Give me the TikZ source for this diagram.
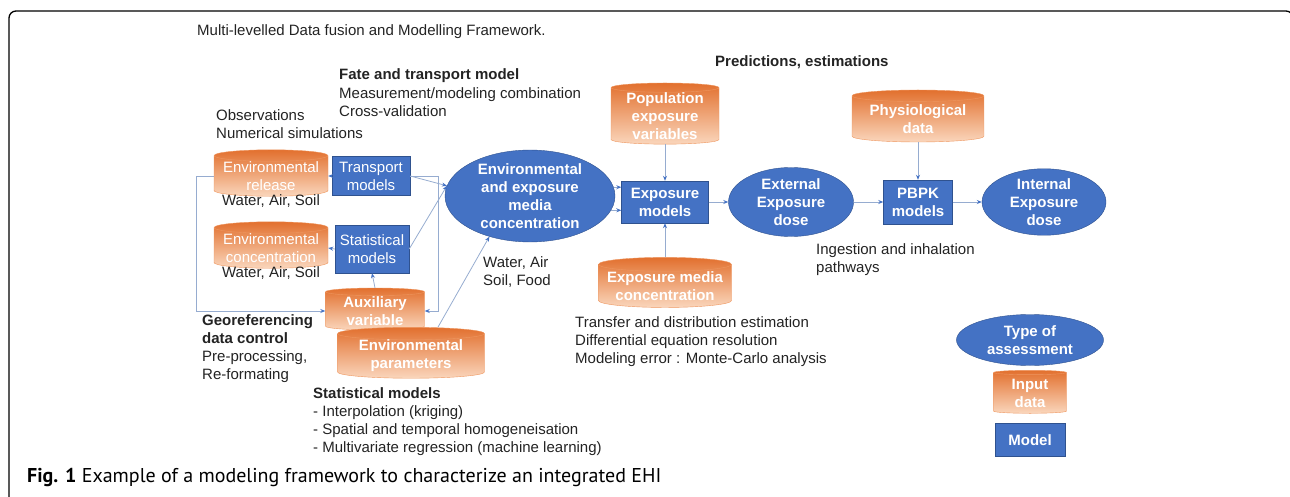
\documentclass[tikz,border=0pt]{standalone}
\usepackage{fontspec}
\setmainfont{Liberation Sans}
\newfontfamily\capfont{PT Sans}
\usetikzlibrary{arrows.meta,shapes.geometric}

\definecolor{boxblue}{RGB}{68,114,196}
\definecolor{edgeblue}{RGB}{47,82,143}
\definecolor{linkcol}{RGB}{150,172,208}
\definecolor{cyltop}{RGB}{226,112,46}
\definecolor{cylbot}{RGB}{250,214,188}
\definecolor{cylrim}{RGB}{238,150,95}
\definecolor{txt}{RGB}{35,35,35}
\newcommand{\dfont}{\fontsize{15}{18}\selectfont}

\begin{document}
\begin{tikzpicture}[x=1pt, y=-1pt,
    font=\dfont,
    model/.style={rectangle, draw=edgeblue, fill=boxblue, text=white, align=center, inner sep=0pt},
    result/.style={ellipse, draw=edgeblue, fill=boxblue, text=white, font=\dfont\bfseries, align=center, inner sep=0pt},
    store/.style={cylinder, shape border rotate=90, aspect=0.12, draw=cylrim, top color=cyltop, bottom color=cylbot, text=white, align=center, inner sep=0pt},
    note/.style={anchor=west, align=left, inner sep=0pt, text=txt},
    link/.style={draw=linkcol, line width=0.8pt, -{Stealth[length=5pt,width=4pt,color=boxblue]}}
]
\useasboundingbox (0,0) rectangle (1290,497);
\draw[line width=1.3pt, rounded corners=7pt] (9,497) -- (9,11) -- (1293,11) -- (1293,497);

% headings and notes
\node[note] (title) at (197,32) {Multi-levelled Data fusion and Modelling Framework.};
\node[note, font=\dfont\bfseries] (fate) at (339,76) {Fate and transport model};
\node[note] (fatetxt) at (339,102) {Measurement/modeling combination\\Cross-validation};
\node[note] (obs) at (216,124) {Observations\\Numerical simulations};
\node[note, font=\dfont\bfseries] (pred) at (715,62) {Predictions, estimations};

% left block
\node[store, minimum width=114, minimum height=45] (release) at (271,176) {Environmental\\release};
\node[text=txt, inner sep=0pt] (relmed) at (271,201) {Water, Air, Soil};
\node[model, minimum width=78, minimum height=39] (transport) at (371,176) {Transport\\models};
\node[store, minimum width=114, minimum height=45] (concen) at (271,248) {Environmental\\concentration};
\node[text=txt, inner sep=0pt] (conmed) at (271,273) {Water, Air, Soil};
\node[model, minimum width=74, minimum height=48] (stat) at (372,249) {Statistical\\models};
\node[store, font=\dfont\bfseries, minimum width=99, minimum height=42] (aux) at (375,311) {Auxiliary\\variable};
\node[store, font=\dfont\bfseries, minimum width=147, minimum height=47] (params) at (411,356) {Environmental\\parameters};

\node[note] (geo) at (202,349) {\textbf{Georeferencing}\\\textbf{data control}\\Pre-processing,\\Re-formating};
\node[note] (statnote) at (313,422) {\textbf{Statistical models}\\- Interpolation (kriging)\\- Spatial and temporal homogeneisation\\- Multivariate regression (machine learning)};
\node[note] (media) at (483,272) {Water, Air\\Soil, Food};

% centre
\node[result, minimum width=170, minimum height=83] (conc) at (530,196) {Environmental\\and exposure\\media\\concentration};
\node[store, font=\dfont\bfseries, minimum width=108, minimum height=58] (pop) at (665,116) {Population\\exposure\\variables};
\node[model, font=\dfont\bfseries, minimum width=87, minimum height=42] (expo) at (665,202) {Exposure\\models};
\node[store, font=\dfont\bfseries, minimum width=133, minimum height=38] (expmed) at (665,286) {Exposure media\\concentration};
\node[note] (transfer) at (575,342) {Transfer and distribution estimation\\Differential equation resolution\\Modeling error : Monte-Carlo analysis};

% right block
\node[result, minimum width=125, minimum height=69] (extdose) at (791,202) {External\\Exposure\\dose};
\node[model, font=\dfont\bfseries, minimum width=69, minimum height=44] (pbpk) at (918,202) {PBPK\\models};
\node[store, font=\dfont\bfseries, minimum width=132, minimum height=52] (phys) at (918,119) {Physiological\\data};
\node[result, minimum width=124, minimum height=65] (intdose) at (1044,202) {Internal\\Exposure\\dose};
\node[note] (ingest) at (816,260) {Ingestion and inhalation\\pathways};

% legend
\node[result, minimum width=147, minimum height=51] (kind) at (1030,340) {Type of\\assessment};
\node[store, font=\dfont\bfseries, minimum width=73, minimum height=43] (input) at (1030,393) {Input\\data};
\node[model, font=\dfont\bfseries, minimum width=70, minimum height=33] (modelkey) at (1030,440) {Model};

% caption
\node[anchor=west, inner sep=0pt, font=\capfont\fontsize{20}{24}\selectfont] (caption) at (27,477) {\textbf{Fig. 1} Example of a modeling framework to characterize an integrated EHI};

% connectors
\draw[link] (transport.west) -- (release.east);
\draw[link] (stat.west) -- (concen.east);
\draw[link] (aux.north) -- (stat.south);
\draw[link] (transport.east) -- (conc.173);
\draw[link] (stat.east) -- (conc.173);
\draw[link] (transport.east) -- ++(28,0) |- (aux.east);
\draw[link] (release.west) -- ++(-17,0) |- (aux.west);
\draw[link] ([xshift=27pt]params.north) -- (conc.225);
\draw[link] (conc.6) -- (conc.6 -| expo.west);
\draw[link] (conc.-10) -- (conc.-10 -| expo.west);
\draw[link] (pop.south) -- (expo.north);
\draw[link] (expmed.north) -- (expo.south);
\draw[link] (expo.east) -- (extdose.west);
\draw[link] (extdose.east) -- (pbpk.west);
\draw[link] (phys.south) -- (pbpk.north);
\draw[link] (pbpk.east) -- (intdose.west);
\end{tikzpicture}
\end{document}
